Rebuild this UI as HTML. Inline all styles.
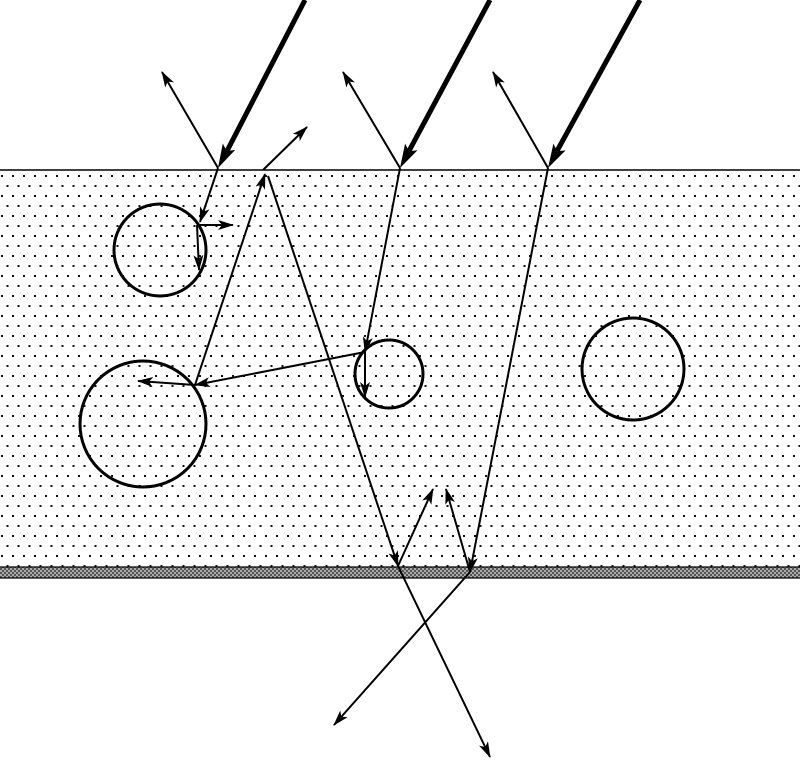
<!DOCTYPE html>
<html><head><style>html,body{margin:0;padding:0;background:#fff}svg{display:block}</style></head><body>
<svg width="800" height="764" viewBox="0 0 800 764" xmlns="http://www.w3.org/2000/svg">
<defs>
<pattern id="dots" x="0" y="172" width="11" height="20" patternUnits="userSpaceOnUse">
<rect x="1" y="3" width="2" height="2" fill="#111"/>
<rect x="6.5" y="13" width="2" height="2" fill="#111"/>
</pattern>
<pattern id="hatch" width="4" height="4" patternUnits="userSpaceOnUse">
<rect width="4" height="4" fill="#aaa"/><rect width="2" height="2" fill="#555"/><rect x="2" y="2" width="2" height="2" fill="#555"/>
</pattern>
<marker id="a" viewBox="0 0 16 10" refX="15" refY="5" markerWidth="8" markerHeight="5" orient="auto"><path d="M0,0 L16,5 L0,10 L4,5 z" fill="#000"/></marker>
</defs>
<rect x="0" y="170" width="800" height="398" fill="url(#dots)"/>
<line x1="0" y1="170" x2="800" y2="170" stroke="#000" stroke-width="1.5"/>
<rect x="0" y="567" width="800" height="11" fill="url(#hatch)"/>
<line x1="0" y1="567" x2="800" y2="567" stroke="#000" stroke-width="1.2"/>
<line x1="0" y1="578" x2="800" y2="578" stroke="#000" stroke-width="1.2"/>
<g fill="none" stroke="#000" stroke-width="3">
<circle cx="160" cy="250" r="46"/><circle cx="143" cy="424" r="63"/><circle cx="389" cy="374" r="34"/><circle cx="633" cy="369" r="51"/>
</g>
<g stroke="#000" stroke-width="5">
<line x1="305" y1="0" x2="227" y2="151"/>
<line x1="490" y1="0" x2="409" y2="151"/>
<line x1="640" y1="0" x2="557" y2="151"/>
</g>
<g fill="#000">
<polygon points="218,168 235.2,149.9 226.7,151.1 222.8,143.5"/>
<polygon points="400,168 417.5,150.2 409,151.3 405.1,143.6"/>
<polygon points="548,168 565.6,150.4 557.1,151.3 553.4,143.6"/>
</g>
<g stroke="#000" stroke-width="2" marker-end="url(#a)">
<line x1="218" y1="168" x2="162" y2="72"/>
<line x1="400" y1="168" x2="343" y2="72"/>
<line x1="548" y1="168" x2="493" y2="72"/>
<line x1="218" y1="168" x2="200" y2="222"/>
<line x1="200" y1="225" x2="233" y2="225"/>
<line x1="197" y1="225" x2="199" y2="270"/>
<line x1="400" y1="168" x2="365" y2="352"/>
<line x1="365" y1="352" x2="365" y2="397"/>
<line x1="365" y1="352" x2="195" y2="385"/>
<line x1="195" y1="385" x2="138" y2="381"/>
<line x1="195" y1="385" x2="265" y2="174"/>
<line x1="263" y1="170" x2="307" y2="127"/>
<line x1="268" y1="176" x2="398" y2="566"/>
<line x1="398" y1="566" x2="433" y2="489"/>
<line x1="398" y1="566" x2="490" y2="757"/>
<line x1="548" y1="168" x2="470" y2="572"/>
<line x1="470" y1="572" x2="446" y2="489"/>
<line x1="470" y1="572" x2="334" y2="725"/>
</g>
</svg>
</body></html>
